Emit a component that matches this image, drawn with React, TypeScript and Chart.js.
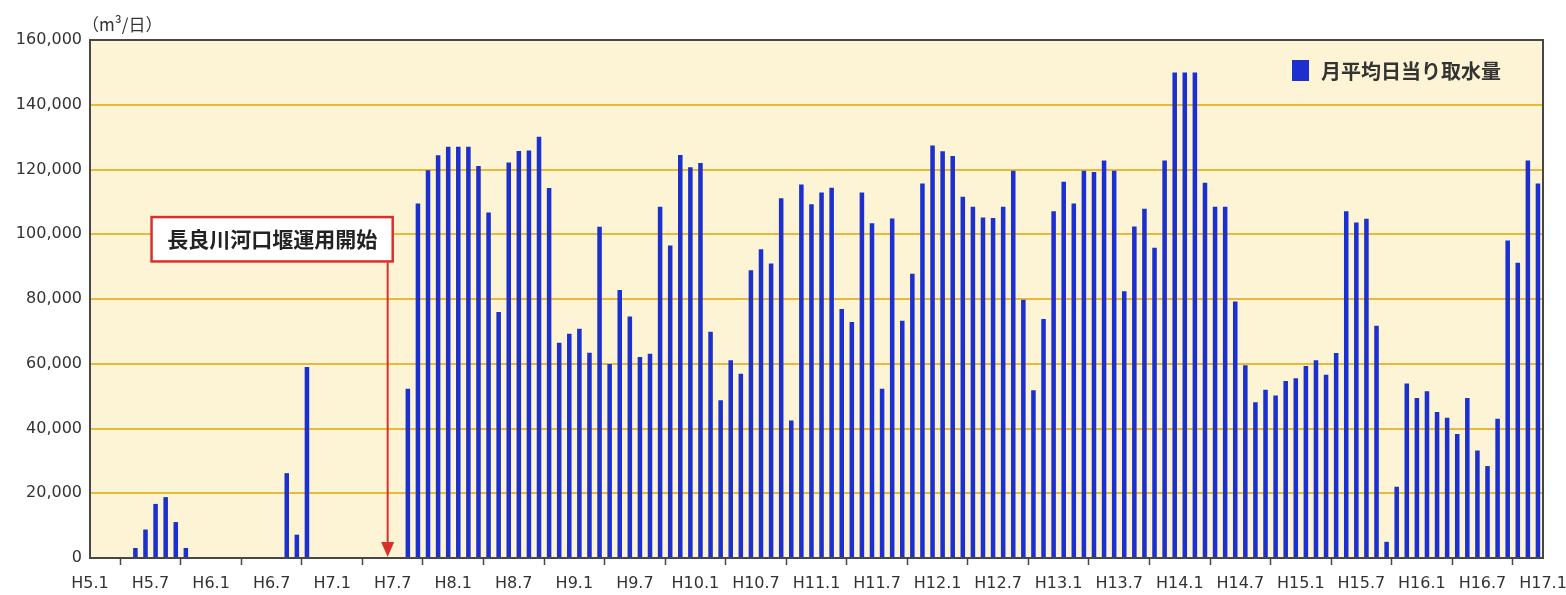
import React, { useEffect, useRef } from "react";
import { Chart, registerables } from "chart.js";

Chart.register(...registerables);

// x-axis tick labels (every 6 months, H5.1 .. H17.1)
const tickLabels = [
  "H5.1", "H5.7", "H6.1", "H6.7", "H7.1", "H7.7", "H8.1", "H8.7", "H9.1",
  "H9.7", "H10.1", "H10.7", "H11.1", "H11.7", "H12.1", "H12.7", "H13.1",
  "H13.7", "H14.1", "H14.7", "H15.1", "H15.7", "H16.1", "H16.7", "H17.1",
];

// monthly average daily intake (m3/day), Jan..Dec of each year
const intakeH5 = [0, 0, 0, 0, 3100, 8800, 16700, 18800, 11100, 3100, 0, 0];
const intakeH6 = [0, 0, 0, 0, 0, 0, 0, 26200, 7200, 59000, 0, 0];
const intakeH7 = [0, 0, 0, 0, 0, 0, 0, 52300, 109500, 119800, 124400, 127000];
const intakeH8 = [127000, 127000, 121100, 106700, 76000, 122200, 125700, 125900, 130100, 114300, 66500, 69300];
const intakeH9 = [70800, 63400, 102300, 59900, 82800, 74600, 62100, 63100, 108500, 96500, 124500, 120700];
const intakeH10 = [122000, 69900, 48700, 61100, 56900, 88900, 95400, 91000, 111100, 42500, 115400, 109300];
const intakeH11 = [112900, 114400, 76900, 72900, 112900, 103400, 52300, 104900, 73300, 87800, 115700, 127400];
const intakeH12 = [125600, 124200, 111600, 108500, 105200, 105000, 108500, 119600, 79800, 51800, 73800, 107100];
const intakeH13 = [116200, 109500, 119600, 119200, 122800, 119600, 82400, 102400, 107900, 95800, 122800, 150000];
const intakeH14 = [150000, 150000, 115900, 108500, 108500, 79200, 59500, 48100, 52000, 50200, 54700, 55500];
const intakeH15 = [59300, 61100, 56600, 63300, 107100, 103600, 104800, 71700, 5000, 22000, 53900, 49400];
const intakeH16 = [51500, 45100, 43300, 38300, 49400, 33200, 28400, 43000, 98100, 91200, 122800, 115700];

const seriesLabel = "月平均日当り取水量";
const unitLabel = "（m³/日）";
const noteText = "長良川河口堰運用開始";

const Y_MAX = 160000;
const Y_STEP = 20000;
const MONTHS_PER_TICK = 6;

// annotation placement, in axis units (months from H5.1, m3/day)
const NOTE_BOX = { fromMonth: 6.1, toMonth: 30.0, topValue: 105300, bottomValue: 91600 };
const NOTE_ARROW_MONTH = 29.5;

const BAR_COLOR = "#1b30cf";
const GRID_COLOR = "#e8b93c";
const PLOT_BG = "#fdf4d5";
const AXIS_COLOR = "#474747";
const TEXT_COLOR = "#333333";
const NOTE_RED = "#d8302b";
const CJK_FONT = "'Noto Sans CJK JP', 'Noto Sans', sans-serif";

const decorPlugin = {
  id: "decor",
  beforeDraw(chart: any) {
    const { ctx, chartArea: a } = chart;
    ctx.save();
    ctx.fillStyle = PLOT_BG;
    ctx.fillRect(a.left, a.top, a.right - a.left, a.bottom - a.top);
    ctx.restore();
  },
  afterDraw(chart: any) {
    const { ctx, chartArea: a, scales } = chart;
    const xs = scales.x;
    const ys = scales.y;
    ctx.save();

    // top and right frame
    ctx.strokeStyle = AXIS_COLOR;
    ctx.lineWidth = 2;
    ctx.beginPath();
    ctx.moveTo(a.left, a.top);
    ctx.lineTo(a.right, a.top);
    ctx.lineTo(a.right, a.bottom);
    ctx.stroke();

    // unit label
    ctx.fillStyle = TEXT_COLOR;
    ctx.font = `17px ${CJK_FONT}`;
    ctx.textAlign = "left";
    ctx.textBaseline = "middle";
    ctx.fillText(unitLabel, a.left - 8, a.top - 15);

    // legend
    const ds = chart.data.datasets[0];
    const lx = a.right - 251;
    const ly = a.top + 20;
    ctx.fillStyle = ds.backgroundColor;
    ctx.fillRect(lx, ly, 17, 21);
    ctx.fillStyle = TEXT_COLOR;
    ctx.font = `bold 20px ${CJK_FONT}`;
    ctx.fillText(ds.label, lx + 29, ly + 11);

    // annotation box
    const bx0 = xs.getPixelForValue(NOTE_BOX.fromMonth);
    const bx1 = xs.getPixelForValue(NOTE_BOX.toMonth);
    const by0 = ys.getPixelForValue(NOTE_BOX.topValue);
    const by1 = ys.getPixelForValue(NOTE_BOX.bottomValue);
    ctx.fillStyle = "#ffffff";
    ctx.fillRect(bx0, by0, bx1 - bx0, by1 - by0);
    ctx.strokeStyle = NOTE_RED;
    ctx.lineWidth = 2.5;
    ctx.strokeRect(bx0, by0, bx1 - bx0, by1 - by0);
    ctx.fillStyle = "#222222";
    ctx.font = `bold 21px ${CJK_FONT}`;
    ctx.textAlign = "center";
    ctx.textBaseline = "middle";
    ctx.fillText(noteText, (bx0 + bx1) / 2, (by0 + by1) / 2);

    // arrow
    const ax = xs.getPixelForValue(NOTE_ARROW_MONTH);
    const tipY = ys.getPixelForValue(0) - 1;
    const headH = 15;
    ctx.strokeStyle = NOTE_RED;
    ctx.lineWidth = 2;
    ctx.beginPath();
    ctx.moveTo(ax, by1 + 1);
    ctx.lineTo(ax, tipY - headH + 1);
    ctx.stroke();
    ctx.fillStyle = NOTE_RED;
    ctx.beginPath();
    ctx.moveTo(ax - 6.5, tipY - headH);
    ctx.lineTo(ax + 6.5, tipY - headH);
    ctx.lineTo(ax, tipY);
    ctx.closePath();
    ctx.fill();

    ctx.restore();
  },
};

export default function App() {
  const canvasRef = useRef<HTMLCanvasElement | null>(null);

  useEffect(() => {
    const canvas = canvasRef.current;
    if (!canvas) return;
    const monthly = [
      intakeH5, intakeH6, intakeH7, intakeH8, intakeH9, intakeH10,
      intakeH11, intakeH12, intakeH13, intakeH14, intakeH15, intakeH16,
    ].flat();
    const points = monthly.map((v, i) => ({ x: i + 0.5, y: v }));

    const chart = new Chart(canvas, {
      type: "bar",
      data: {
        datasets: [
          {
            label: seriesLabel,
            data: points as any,
            backgroundColor: BAR_COLOR,
            borderWidth: 0,
            barPercentage: 0.45,
            categoryPercentage: 1,
          },
        ],
      },
      options: {
        animation: false,
        responsive: false,
        devicePixelRatio: 1,
        layout: { padding: { left: 0, right: 23, top: 40, bottom: 0 } },
        plugins: {
          legend: { display: false },
          tooltip: { enabled: false },
        },
        scales: {
          x: {
            type: "linear",
            min: 0,
            max: tickLabels.length * MONTHS_PER_TICK - MONTHS_PER_TICK,
            offset: false,
            afterFit: (scale: any) => {
              scale.height = 37;
              scale.paddingLeft = 0;
              scale.paddingRight = 0;
            },
            ticks: {
              stepSize: MONTHS_PER_TICK,
              autoSkip: false,
              maxRotation: 0,
              padding: 9,
              color: TEXT_COLOR,
              font: { family: "'DejaVu Sans', sans-serif", size: 16 },
              callback: (v: any) => tickLabels[Math.round(Number(v) / MONTHS_PER_TICK)] ?? "",
            },
            grid: {
              drawOnChartArea: false,
              drawTicks: true,
              tickLength: 7,
              tickColor: AXIS_COLOR,
              tickWidth: 1.5,
              color: AXIS_COLOR,
            },
            border: { color: AXIS_COLOR, width: 2 },
          },
          y: {
            min: 0,
            max: Y_MAX,
            afterFit: (scale: any) => {
              scale.width = 90;
            },
            ticks: {
              stepSize: Y_STEP,
              padding: 8,
              color: TEXT_COLOR,
              font: { family: "'DejaVu Sans', sans-serif", size: 16 },
              callback: (v: any) => Number(v).toLocaleString("en-US"),
            },
            grid: {
              drawTicks: false,
              lineWidth: 2,
              color: (c: any) =>
                c.tick && (c.tick.value === 0 || c.tick.value === Y_MAX)
                  ? "rgba(0,0,0,0)"
                  : GRID_COLOR,
            },
            border: { color: AXIS_COLOR, width: 2 },
          },
        },
      },
      plugins: [decorPlugin],
    });
    return () => chart.destroy();
  }, []);

  return (
    <div style={{ position: "absolute", left: 0, top: 0, width: 1566, height: 595, background: "#ffffff" }}>
      <canvas ref={canvasRef} width={1566} height={595} />
    </div>
  );
}
